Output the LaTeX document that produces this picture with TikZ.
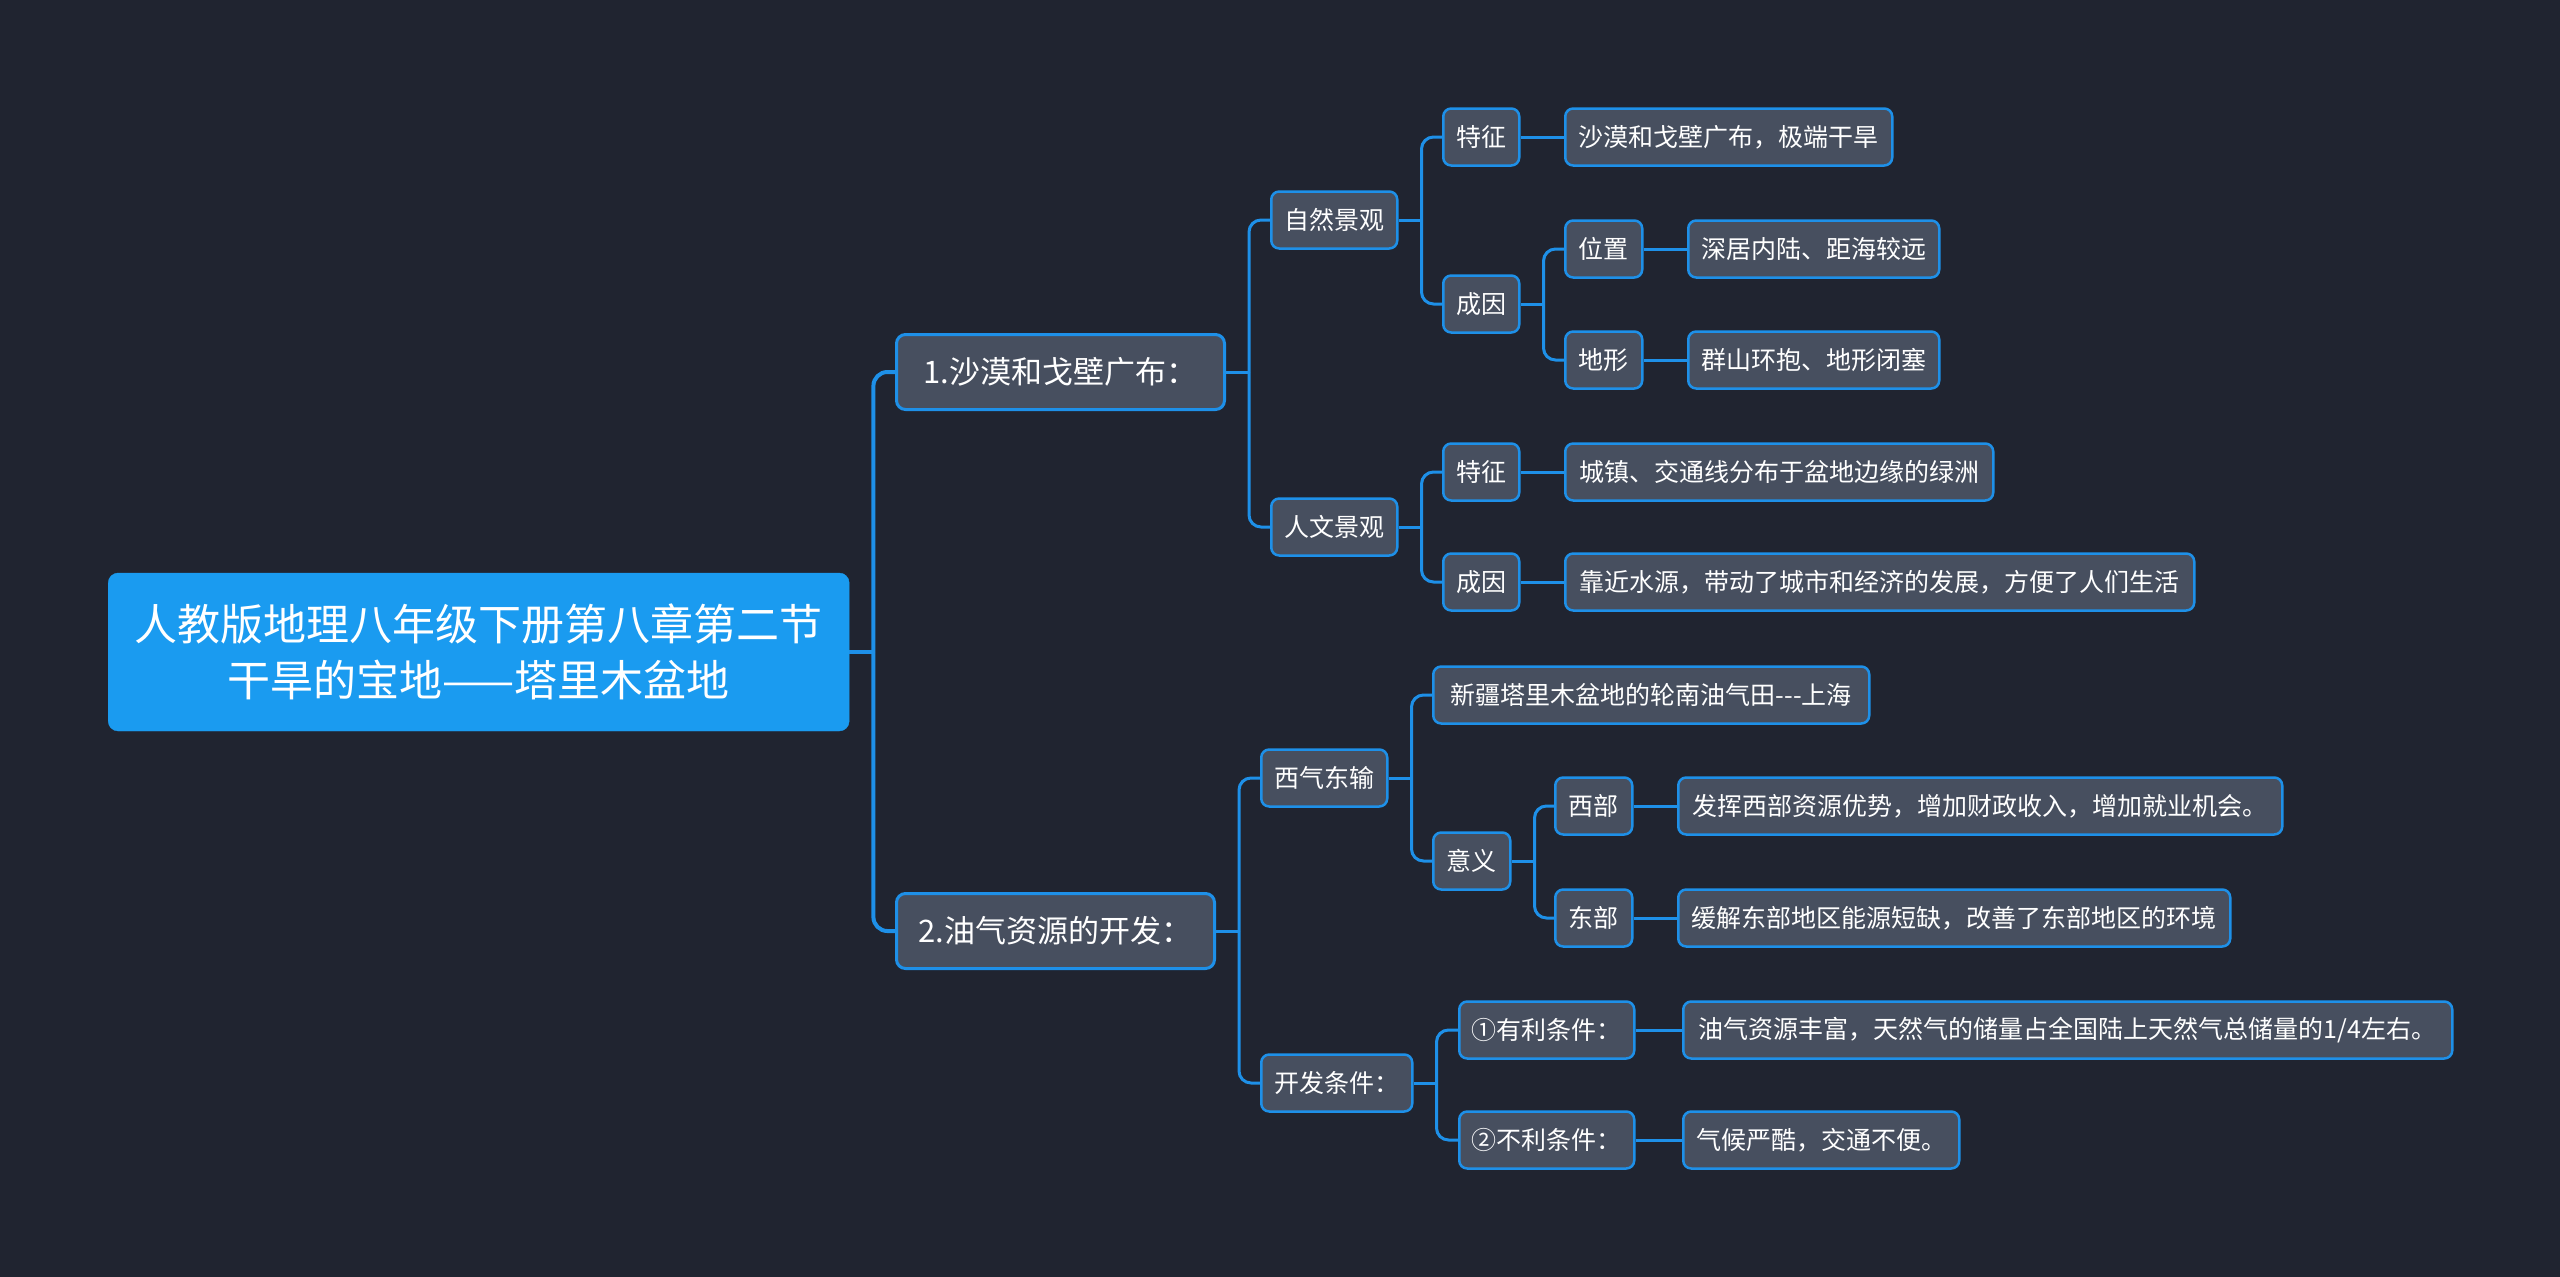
\documentclass[tikz,border=0pt]{standalone}
\usepackage{fontspec}
\setmainfont{Noto Sans CJK SC}
\definecolor{bg}{RGB}{32,36,48}
\definecolor{nodefill}{RGB}{71,79,95}
\definecolor{edgeblue}{RGB}{30,144,232}
\definecolor{rootfill}{RGB}{26,155,240}
\begin{document}
\begin{tikzpicture}[x=1pt,y=-1pt,
  box/.style={draw=edgeblue, line width=2.5pt, fill=nodefill, rounded corners=8pt,
    text=white, font=\fontsize{25}{30}\selectfont, minimum height=57pt,
    inner xsep=12pt, inner ysep=0pt, anchor=west},
  lone/.style={box, line width=3pt, minimum height=75pt, rounded corners=9pt,
    font=\fontsize{31}{36}\selectfont, inner xsep=13pt},
  rootbox/.style={fill=rootfill, draw=rootfill, rounded corners=10pt, text=white,
    font=\fontsize{43}{56}\selectfont, align=center, minimum width=741pt,
    minimum height=158pt, anchor=west, inner sep=0pt},
  conn/.style={draw=edgeblue, line width=3pt, rounded corners=12pt},
  connB/.style={draw=edgeblue, line width=4pt, rounded corners=14pt}]
\fill[bg] (0,0) rectangle (2560,1277);
\useasboundingbox (0,0) rectangle (2560,1277);

% root
\node[rootbox] (root) at (108,652) {人教版地理八年级下册第八章第二节\\干旱的宝地——塔里木盆地};

% level 1
\node[lone, minimum width=328pt] (A) at (895,372) {1.沙漠和戈壁广布：};
\node[lone, minimum width=318pt] (B) at (895,931) {2.油气资源的开发：};

% level 2
\node[box, minimum width=126pt] (A1) at (1270,220) {自然景观};
\node[box, minimum width=126pt] (A2) at (1270,527) {人文景观};
\node[box, minimum width=126pt] (B1) at (1260,778) {西气东输};
\node[box, minimum width=151pt] (B2) at (1260,1083) {开发条件：};

% level 3
\node[box, minimum width=76pt] (A11) at (1442,137) {特征};
\node[box, minimum width=76pt] (A12) at (1442,304) {成因};
\node[box, minimum width=76pt] (A21) at (1442,472) {特征};
\node[box, minimum width=76pt] (A22) at (1442,582) {成因};
\node[box, minimum width=436pt] (B11) at (1432,695) {新疆塔里木盆地的轮南油气田-{}-{}-上海};
\node[box, minimum width=77pt] (B12) at (1432,861) {意义};
\node[box, minimum width=175pt] (B21) at (1458,1030) {①有利条件：};
\node[box, minimum width=175pt] (B22) at (1458,1140) {②不利条件：};

% level 4
\node[box, minimum width=327pt] (A111) at (1564,137) {沙漠和戈壁广布，极端干旱};
\node[box, minimum width=77pt] (A121) at (1564,249) {位置};
\node[box, minimum width=77pt] (A122) at (1564,360) {地形};
\node[box, minimum width=428pt] (A211) at (1564,472) {城镇、交通线分布于盆地边缘的绿洲};
\node[box, minimum width=629pt] (A221) at (1564,582) {靠近水源，带动了城市和经济的发展，方便了人们生活};
\node[box, minimum width=77pt] (B121) at (1554,806) {西部};
\node[box, minimum width=77pt] (B122) at (1554,918) {东部};
\node[box, minimum width=769pt] (B211) at (1682,1030) {油气资源丰富，天然气的储量占全国陆上天然气总储量的1/4左右。};
\node[box, minimum width=276pt] (B221) at (1682,1140) {气候严酷，交通不便。};

% level 5
\node[box, minimum width=251pt] (A1211) at (1687,249) {深居内陆、距海较远};
\node[box, minimum width=251pt] (A1221) at (1687,360) {群山环抱、地形闭塞};
\node[box, minimum width=604pt] (B1211) at (1677,806) {发挥西部资源优势，增加财政收入，增加就业机会。};
\node[box, minimum width=552pt] (B1221) at (1677,918) {缓解东部地区能源短缺，改善了东部地区的环境};

% connectors: root
\coordinate (rootT) at ([xshift=24pt]root.east);
\draw[connB] (root.east) -- (rootT);
\draw[connB] (rootT) |- (A.west);
\draw[connB] (rootT) |- (B.west);

% A
\coordinate (AT) at ([xshift=23pt]A.east);
\draw[conn] (A.east) -- (AT);
\draw[conn] (AT) |- (A1.west);
\draw[conn] (AT) |- (A2.west);

\coordinate (A1T) at ([xshift=23pt]A1.east);
\draw[conn] (A1.east) -- (A1T);
\draw[conn] (A1T) |- (A11.west);
\draw[conn] (A1T) |- (A12.west);
\draw[conn] (A11.east) -- (A111.west);

\coordinate (A12T) at ([xshift=23pt]A12.east);
\draw[conn] (A12.east) -- (A12T);
\draw[conn] (A12T) |- (A121.west);
\draw[conn] (A12T) |- (A122.west);
\draw[conn] (A121.east) -- (A1211.west);
\draw[conn] (A122.east) -- (A1221.west);

\coordinate (A2T) at ([xshift=23pt]A2.east);
\draw[conn] (A2.east) -- (A2T);
\draw[conn] (A2T) |- (A21.west);
\draw[conn] (A2T) |- (A22.west);
\draw[conn] (A21.east) -- (A211.west);
\draw[conn] (A22.east) -- (A221.west);

% B
\coordinate (BT) at ([xshift=23pt]B.east);
\draw[conn] (B.east) -- (BT);
\draw[conn] (BT) |- (B1.west);
\draw[conn] (BT) |- (B2.west);

\coordinate (B1T) at ([xshift=23pt]B1.east);
\draw[conn] (B1.east) -- (B1T);
\draw[conn] (B1T) |- (B11.west);
\draw[conn] (B1T) |- (B12.west);

\coordinate (B12T) at ([xshift=23pt]B12.east);
\draw[conn] (B12.east) -- (B12T);
\draw[conn] (B12T) |- (B121.west);
\draw[conn] (B12T) |- (B122.west);
\draw[conn] (B121.east) -- (B1211.west);
\draw[conn] (B122.east) -- (B1221.west);

\coordinate (B2T) at ([xshift=23pt]B2.east);
\draw[conn] (B2.east) -- (B2T);
\draw[conn] (B2T) |- (B21.west);
\draw[conn] (B2T) |- (B22.west);
\draw[conn] (B21.east) -- (B211.west);
\draw[conn] (B22.east) -- (B221.west);
\end{tikzpicture}
\end{document}
